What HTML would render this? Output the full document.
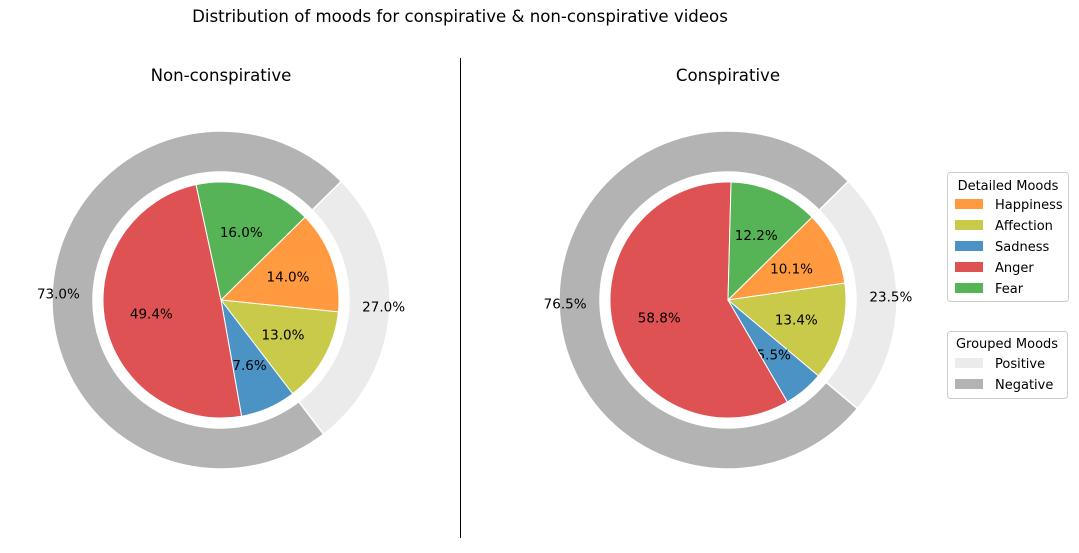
<!DOCTYPE html>
<html><head><meta charset="utf-8"><style>
body{margin:0;background:#fff;font-family:"Liberation Sans","DejaVu Sans",sans-serif}
svg text{font-family:"DejaVu Sans","Liberation Sans",sans-serif;font-size:13px;fill:#000}
svg text.big{font-size:16.6px}
svg text.lbl{font-size:13.5px}
</style></head><body>
<svg id="chart" width="1079" height="548" viewBox="0 0 1079 548">
<text class="big" x="460" y="22" text-anchor="middle">Distribution of moods for conspirative &amp; non-conspirative videos</text>
<line x1="460.5" y1="58" x2="460.5" y2="538" stroke="#000" stroke-width="1"/>
<g id="pies"></g>
<g>
<rect x="947.5" y="172.5" width="121" height="129" rx="3" fill="#fff" stroke="#ccc"/>
<text x="1008" y="190" text-anchor="middle">Detailed Moods</text>
</g>
<g>
<rect x="947.5" y="331.5" width="120" height="67" rx="3" fill="#fff" stroke="#ccc"/>
<text x="1007" y="348" text-anchor="middle">Grouped Moods</text>
</g>
<g id="legends"></g>
</svg>
<script>
const moods=["Happiness","Affection","Sadness","Anger","Fear"];
const colors=["#ff9a40","#c9c94a","#4a93c4","#df5254","#56b356"];
const nonConsp=[14.0,13.0,7.6,49.4,16.0];
const consp=[10.1,13.4,5.5,58.8,12.2];
const groups=["Positive","Negative"];
const groupColors=["#ebebeb","#b3b3b3"];
const nonConspGroups=[27.0,73.0];
const conspGroups=[23.5,76.5];
const titles=["Non-conspirative","Conspirative"];

const NS="http://www.w3.org/2000/svg";
const pies=document.getElementById('pies');
function mk(tag,attrs,parent){const e=document.createElementNS(NS,tag);for(const k in attrs)e.setAttribute(k,attrs[k]);parent.appendChild(e);return e;}
function pt(cx,cy,r,a){const t=a*Math.PI/180;return [cx+r*Math.cos(t),cy-r*Math.sin(t)];}
function wedge(cx,cy,r0,r1,a0,a1){
  const large=(a0-a1)>180?1:0;
  const p0=pt(cx,cy,r1,a0),p1=pt(cx,cy,r1,a1);
  if(r0<=0) return `M${cx},${cy}L${p0}A${r1},${r1} 0 ${large} 1 ${p1}Z`;
  const q1=pt(cx,cy,r0,a1),q0=pt(cx,cy,r0,a0);
  return `M${p0}A${r1},${r1} 0 ${large} 1 ${p1}L${q1}A${r0},${r0} 0 ${large} 0 ${q0}Z`;
}
const START=44.6;
function drawPie(cx,cy,vals,gvals,title,idx){
  const g=mk('g',{},pies);
  
  
  const t=mk('text',{x:cx,y:81,'text-anchor':'middle','class':'big'},g);t.textContent=title;
  
  
  const gs=gvals.reduce((a,b)=>a+b,0);let a=START;
  gvals.forEach((v,i)=>{const sw=v/gs*360;
    const p=mk('path',{d:wedge(cx,cy,128,169,a,a-sw),fill:groupColors[i],stroke:'#fff','stroke-width':1.5},g);
    
    
    const [lx,ly]=pt(cx,cy,163,a-sw/2);
    const tx=mk('text',{x:lx,y:cy+(ly-cy)*0.55+5,'text-anchor':'middle','class':'lbl'},g);tx.textContent=v.toFixed(1)+'%';
    
    
    a-=sw;});
  const s=vals.reduce((a,b)=>a+b,0);a=START;
  vals.forEach((v,i)=>{const sw=v/s*360;
    const p=mk('path',{d:wedge(cx,cy,0,118,a,a-sw),fill:colors[i],stroke:'#fff','stroke-width':1},g);
    
    
    const [lx,ly]=pt(cx,cy,71,a-sw/2);
    const tx=mk('text',{x:lx,y:ly+5,'text-anchor':'middle','class':'lbl'},g);tx.textContent=v.toFixed(1)+'%';
    
    
    a-=sw;});
}
drawPie(221,300,nonConsp,nonConspGroups,titles[0],0);
drawPie(728,300,consp,conspGroups,titles[1],1);
const lg=document.getElementById('legends');
moods.forEach((m,i)=>{const y=199+i*21;
  const r=mk('rect',{x:955,y:y,width:28,height:10,fill:colors[i]},lg);
  
  
  const t=mk('text',{x:995,y:y+10},lg);t.textContent=m;
  
  });
groups.forEach((m,i)=>{const y=358+i*21;
  const r=mk('rect',{x:955,y:y,width:28,height:10,fill:groupColors[i]},lg);
  
  
  const t=mk('text',{x:995,y:y+10},lg);t.textContent=m;
  
  });
</script>
</body></html>
